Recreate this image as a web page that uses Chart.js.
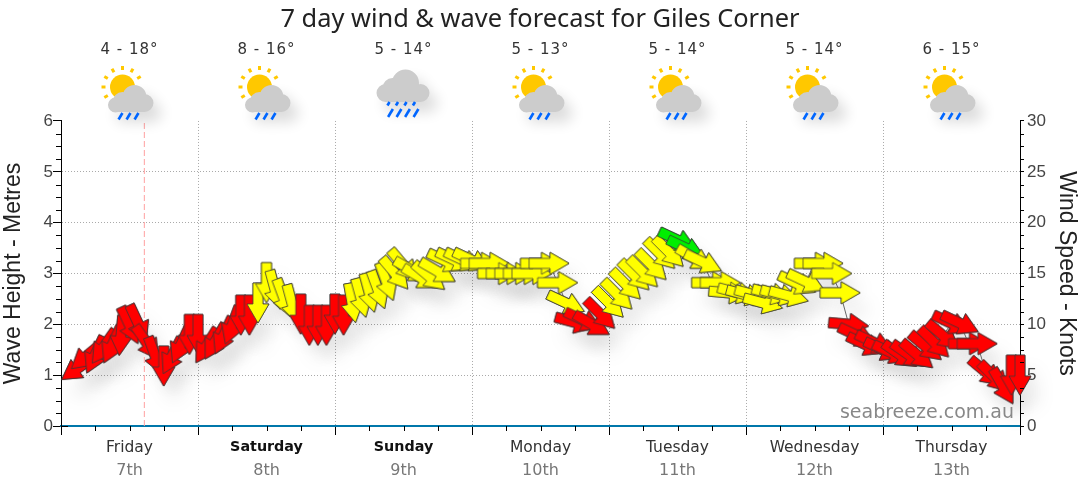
<!DOCTYPE html>
<html>
<head>
<meta charset="utf-8">
<title>7 day wind & wave forecast for Giles Corner</title>
<script src="https://cdn.jsdelivr.net/npm/chart.js@4"></script>
<style>
  html, body { margin: 0; padding: 0; background: #fff; }
  canvas { display: block; }
</style>
</head>
<body>
<canvas id="forecast" width="1080" height="490"></canvas>
<script>
var dayNames = ['Friday', 'Saturday', 'Sunday', 'Monday', 'Tuesday', 'Wednesday', 'Thursday'];
var dayDates = ['7th', '8th', '9th', '10th', '11th', '12th', '13th'];
var boldDays = ['Saturday', 'Sunday'];
var tempRanges = ['4 - 18°', '8 - 16°', '5 - 14°', '5 - 13°', '5 - 14°', '5 - 14°', '6 - 15°'];
var dayIcons = ['part', 'part', 'rain', 'part', 'part', 'part', 'part'];
var dayMiddles = [12, 36, 60, 84, 108, 132, 156];
var nowHour = 14.6;

var hours = [3, 4.5, 6, 7.5, 9, 10.5, 12, 13.5, 15, 16.5, 18, 19.5, 21, 22.5, 24, 25.5, 27, 28.5, 30, 31.5,
  33, 34.5, 36, 37.5, 39, 40.5, 42, 43.5, 45, 46.5, 48, 49.5, 51, 52.5, 54, 55.5, 57, 58.5, 60, 61.5,
  63, 64.5, 66, 67.5, 69, 70.5, 72, 73.5, 75, 76.5, 78, 79.5, 81, 82.5, 84, 85.5, 87, 88.5, 90, 91.5,
  93, 94.5, 96, 97.5, 99, 100.5, 102, 103.5, 105, 106.5, 108, 109.5, 111, 112.5, 114, 115.5, 117, 118.5, 120, 121.5,
  123, 124.5, 126, 127.5, 129, 130.5, 132, 133.5, 135, 136.5, 138, 139.5, 141, 142.5, 144, 145.5, 147, 148.5, 150, 151.5,
  153, 154.5, 156, 157.5, 159, 160.5, 162, 163.5, 165, 166.5, 168];
var windSpeed = [5.7, 6.9, 7.0, 7.8, 8.0, 8.9, 9.9, 10.1, 8.2, 6.9, 5.9, 6.9, 8.0, 9.0, 9.0, 7.9, 8.3, 8.9, 9.9, 10.9,
  10.9, 12.1, 14.1, 13.4, 12.6, 12.0, 11.0, 9.9, 9.9, 9.9, 11.0, 10.9, 12.1, 12.6, 13.1, 13.4, 14.2, 15.0, 15.8, 15.3,
  14.6, 14.7, 15.2, 16.2, 16.3, 16.3, 16.3, 16.0, 16.0, 15.0, 15.0, 15.0, 15.0, 15.0, 16.0, 16.0, 14.1, 12.1, 10.2, 10.4,
  10.0, 11.0, 12.1, 12.9, 13.9, 14.8, 15.1, 15.8, 16.9, 17.1, 18.3, 17.5, 16.5, 16.1, 14.1, 14.1, 13.1, 13.1, 12.9, 12.9,
  12.1, 13.0, 12.9, 12.8, 14.0, 14.2, 16.0, 16.0, 15.0, 13.1, 10.0, 8.9, 8.0, 8.2, 7.5, 7.2, 7.0, 7.0, 7.0, 7.8,
  8.2, 8.9, 10.1, 10.1, 8.1, 8.1, 5.3, 4.8, 3.9, 5.0, 5.0];
var windHeading = [235, 230, 205, 215, 205, 185, 155, 155, 145, 160, 180, 207, 205, 180, 180, 212, 210, 205, 200, 180,
  180, 180, 180, 165, 160, 165, 180, 180, 180, 180, 180, 180, 170, 165, 165, 160, 160, 140, 140, 120,
  120, 130, 120, 115, 115, 115, 115, 90, 90, 90, 90, 90, 90, 90, 90, 90, 90, 115, 105, 115,
  120, 135, 135, 135, 135, 135, 135, 135, 135, 135, 115, 115, 120, 115, 90, 90, 95, 105, 105, 105,
  105, 105, 105, 105, 115, 115, 90, 90, 90, 90, 95, 115, 115, 115, 115, 115, 125, 125, 130, 130,
  135, 130, 115, 115, 90, 90, 130, 135, 150, 180, 180];
var leftTicks = [0, 1, 2, 3, 4, 5, 6];

// one sprite per colour and heading, drawn as a path so the outline stays sharp
var sprites = {};
function arrowImage(fill, heading) {
  var key = fill + heading;
  if (sprites[key]) return sprites[key];
  var c = document.createElement('canvas');
  c.width = 52;
  c.height = 52;
  var g = c.getContext('2d');
  g.translate(26, 26);
  g.rotate(heading * Math.PI / 180);
  g.beginPath();
  g.moveTo(0, -20);
  g.lineTo(11, -1);
  g.lineTo(5, -1);
  g.lineTo(5, 20);
  g.lineTo(-5, 20);
  g.lineTo(-5, -1);
  g.lineTo(-11, -1);
  g.closePath();
  g.fillStyle = fill;
  g.fill();
  g.lineWidth = 0.75;
  g.lineJoin = 'miter';
  g.strokeStyle = '#383838';
  g.stroke();
  sprites[key] = c;
  return c;
}

function arrowFor(ctx) {
  var k = windSpeed[ctx.dataIndex];
  var fill = '#ff0000';
  if (k >= 17.3) fill = '#00ee00';
  else if (k >= 12) fill = '#ffff00';
  return arrowImage(fill, windHeading[ctx.dataIndex]);
}
function isBoldTick(ctx) {
  return !!ctx.tick && boldDays.indexOf(dayNames[(ctx.tick.value - 12) / 24]) >= 0;
}

function blob(g, parts, x0, y0, x1, y1) {
  g.beginPath();
  parts.forEach(function(p) {
    g.moveTo(p[0] + p[2], p[1]);
    g.arc(p[0], p[1], p[2], 0, Math.PI * 2);
  });
  g.rect(x0, y0, x1 - x0, y1 - y0);
  g.fill();
}
function drawSun(g, x, y) {
  g.fillStyle = '#ffc800';
  g.beginPath();
  g.arc(x, y, 12.5, 0, Math.PI * 2);
  g.fill();
  g.strokeStyle = '#ffc800';
  g.lineWidth = 3;
  [-90, -60, -30, -120, -150, 180, 150].forEach(function(d) {
    var r = d * Math.PI / 180;
    g.beginPath();
    g.moveTo(x + Math.cos(r) * 17, y + Math.sin(r) * 17);
    g.lineTo(x + Math.cos(r) * 21, y + Math.sin(r) * 21);
    g.stroke();
  });
}
function drawDrops(g, x, y, n, dx, len) {
  g.strokeStyle = '#0066ff';
  g.lineWidth = 2.6;
  for (var i = 0; i < n; i++) {
    g.beginPath();
    g.moveTo(x + i * dx + len * 0.3, y);
    g.lineTo(x + i * dx - len * 0.3, y + len);
    g.stroke();
  }
}
function iconShadow(g) {
  g.shadowColor = 'rgba(0,0,0,0.14)';
  g.shadowBlur = 14;
  g.shadowOffsetX = 8;
  g.shadowOffsetY = 10;
}

var topRow = {
  id: 'topRow',
  afterDraw: function(chart) {
    var g = chart.ctx, sx = chart.scales.x;
    dayMiddles.forEach(function(h, i) {
      var cx = sx.getPixelForValue(h);
      g.save();
      g.font = '15px "DejaVu Sans"';
      g.letterSpacing = '1px';
      g.fillStyle = '#333';
      g.textAlign = 'center';
      g.textBaseline = 'middle';
      g.fillText(tempRanges[i], cx, 50);
      if (dayIcons[i] === 'part') {
        drawSun(g, cx - 7, 87);
        iconShadow(g);
        g.fillStyle = '#cccccc';
        blob(g, [[cx + 5, 97, 12], [cx - 7, 102, 10], [cx - 14, 105, 7.5], [cx + 15, 103, 9]], cx - 14, 103, cx + 15, 112);
        g.shadowColor = 'transparent';
        drawDrops(g, cx - 9, 113, 3, 8, 6.5);
      } else {
        iconShadow(g);
        g.fillStyle = '#cccccc';
        blob(g, [[cx + 2, 83, 13.5], [cx - 11, 88, 10], [cx - 18, 93, 9], [cx + 17, 93, 9]], cx - 18, 92, cx + 17, 102);
        g.shadowColor = 'transparent';
        drawDrops(g, cx - 15, 102, 4, 8.5, 3.5);
        drawDrops(g, cx - 13, 109, 4, 8.5, 8);
      }
      g.restore();
    });
  }
};

// minor ticks have their own length, which a Chart.js axis cannot do
var minorTicks = {
  id: 'minorTicks',
  afterDatasetsDraw: function(chart) {
    var g = chart.ctx, a = chart.chartArea, s = chart.scales;
    g.save();
    g.strokeStyle = '#000';
    g.lineWidth = 1;
    g.beginPath();
    for (var h = 6; h < 168; h += 6) {
      if (h % 24 === 0) continue;
      var px = Math.round(s.x.getPixelForValue(h)) + 0.5;
      g.moveTo(px, a.bottom);
      g.lineTo(px, a.bottom + 5);
    }
    for (var m = 0; m < 6; m += 0.25) {
      if (m % 1 === 0) continue;
      var py = Math.round(s.y.getPixelForValue(m)) + 0.5;
      g.moveTo(a.left - 5, py);
      g.lineTo(a.left, py);
      g.moveTo(a.right, py);
      g.lineTo(a.right + 4, py);
    }
    g.moveTo(a.left, a.bottom + 0.5);
    g.lineTo(a.left + 7, a.bottom + 0.5);
    g.stroke();
    g.font = '19px "DejaVu Sans"';
    g.fillStyle = '#888';
    g.textAlign = 'right';
    g.textBaseline = 'alphabetic';
    g.fillText('seabreeze.com.au', 1014, 418);
    g.restore();
  }
};

// soft shadow under the arrows, only on the dataset flagged for it
var arrowShadow = {
  id: 'arrowShadow',
  beforeDatasetDraw: function(chart, args) {
    if (!chart.data.datasets[args.index].castShadow) return;
    var g = chart.ctx;
    g.save();
    g.shadowColor = 'rgba(0,0,0,0.08)';
    g.shadowBlur = 18;
    g.shadowOffsetX = 10;
    g.shadowOffsetY = 16;
  },
  afterDatasetDraw: function(chart, args) {
    if (chart.data.datasets[args.index].castShadow) chart.ctx.restore();
  }
};

var windPoints = hours.map(function(h, i) { return { x: h, y: windSpeed[i] }; });

new Chart(document.getElementById('forecast'), {
  type: 'line',
  data: {
    datasets: [
      {
        data: windPoints,
        yAxisID: 'y2',
        castShadow: true,
        order: 3,
        showLine: false,
        clip: false,
        pointStyle: arrowFor,
        pointRadius: 20
      },
      {
        data: [{ x: nowHour, y: 0 }, { x: nowHour, y: 6 }],
        yAxisID: 'y',
        order: 2,
        borderColor: '#ffa0a0',
        borderWidth: 1,
        borderDash: [6, 3],
        pointRadius: 0
      },
      {
        data: windPoints,
        yAxisID: 'y2',
        order: 1,
        clip: false,
        borderColor: '#666',
        borderWidth: 1,
        pointStyle: arrowFor,
        pointRadius: 20
      }
    ]
  },
  options: {
    responsive: false,
    animation: false,
    events: [],
    layout: { padding: 0 },
    plugins: {
      legend: { display: false },
      tooltip: { enabled: false },
      title: {
        display: true,
        text: '7 day wind & wave forecast for Giles Corner',
        color: '#222',
        font: { family: '"Noto Sans"', size: 25.4, weight: 'normal', lineHeight: 1.2 },
        padding: { top: 5, bottom: 85.5 }
      }
    },
    scales: {
      x: {
        type: 'linear',
        position: 'bottom',
        min: 0,
        max: 168,
        afterBuildTicks: function(scale) {
          var t = [];
          for (var h = 0; h <= 168; h += 12) t.push({ value: h });
          scale.ticks = t;
        },
        afterFit: function(scale) { scale.height = 34; },
        border: { color: '#0077aa', width: 2, dash: [1, 2] },
        grid: {
          tickLength: 9,
          color: function(ctx) {
            if (!ctx.tick) return 'rgba(0,0,0,0)';
            var v = ctx.tick.value;
            return v % 24 === 0 && v > 0 && v < 168 ? '#aaa' : 'rgba(0,0,0,0)';
          },
          tickColor: function(ctx) {
            return ctx.tick && ctx.tick.value % 24 === 0 ? '#000' : 'rgba(0,0,0,0)';
          }
        },
        ticks: {
          autoSkip: false,
          maxRotation: 0,
          padding: 4,
          color: function(ctx) {
            return isBoldTick(ctx) ? '#111' : '#333';
          },
          font: function(ctx) {
            var bold = isBoldTick(ctx);
            return { family: '"DejaVu Sans"', size: bold ? 14.3 : 15.5, weight: bold ? 'bold' : 'normal' };
          },
          callback: function(v) {
            return v % 24 === 12 ? dayNames[(v - 12) / 24] : '';
          }
        }
      },
      x2: {
        type: 'linear',
        position: 'bottom',
        min: 0,
        max: 168,
        afterBuildTicks: function(scale) {
          scale.ticks = dayMiddles.map(function(h) { return { value: h }; });
        },
        afterFit: function(scale) { scale.height = 30; },
        border: { display: false },
        grid: { display: false, drawTicks: false },
        ticks: {
          autoSkip: false,
          maxRotation: 0,
          padding: 1,
          color: '#777',
          font: { family: '"DejaVu Sans"', size: 16 },
          callback: function(v) { return dayDates[(v - 12) / 24]; }
        }
      },
      y: {
        position: 'left',
        min: 0,
        max: 6,
        afterFit: function(scale) { scale.width = 61; },
        border: { color: '#000', dash: [1, 2] },
        grid: {
          tickLength: 8,
          tickColor: '#000',
          color: function(ctx) {
            return ctx.tick && ctx.tick.value === 6 ? 'rgba(0,0,0,0)' : '#aaa';
          }
        },
        afterBuildTicks: function(scale) {
          scale.ticks = leftTicks.map(function(v) { return { value: v }; });
        },
        ticks: { color: '#444', padding: 0, font: { family: '"Liberation Sans"', size: 17 } },
        title: {
          display: true,
          text: 'Wave Height - Metres',
          color: '#222',
          padding: { top: 0, bottom: 0 },
          font: { family: '"Liberation Sans"', size: 23 }
        }
      },
      y2: {
        position: 'right',
        min: 0,
        max: 30,
        afterFit: function(scale) { scale.width = 60; },
        border: { color: '#000' },
        grid: { drawOnChartArea: false, tickLength: 4, tickColor: '#000' },
        ticks: { stepSize: 5, color: '#444', padding: 3, font: { family: '"Liberation Sans"', size: 17 } },
        title: {
          display: true,
          text: 'Wind Speed - Knots',
          color: '#222',
          padding: { top: 0, bottom: 0 },
          font: { family: '"Liberation Sans"', size: 23 }
        }
      }
    }
  },
  plugins: [arrowShadow, minorTicks, topRow]
});
</script>
</body>
</html>
